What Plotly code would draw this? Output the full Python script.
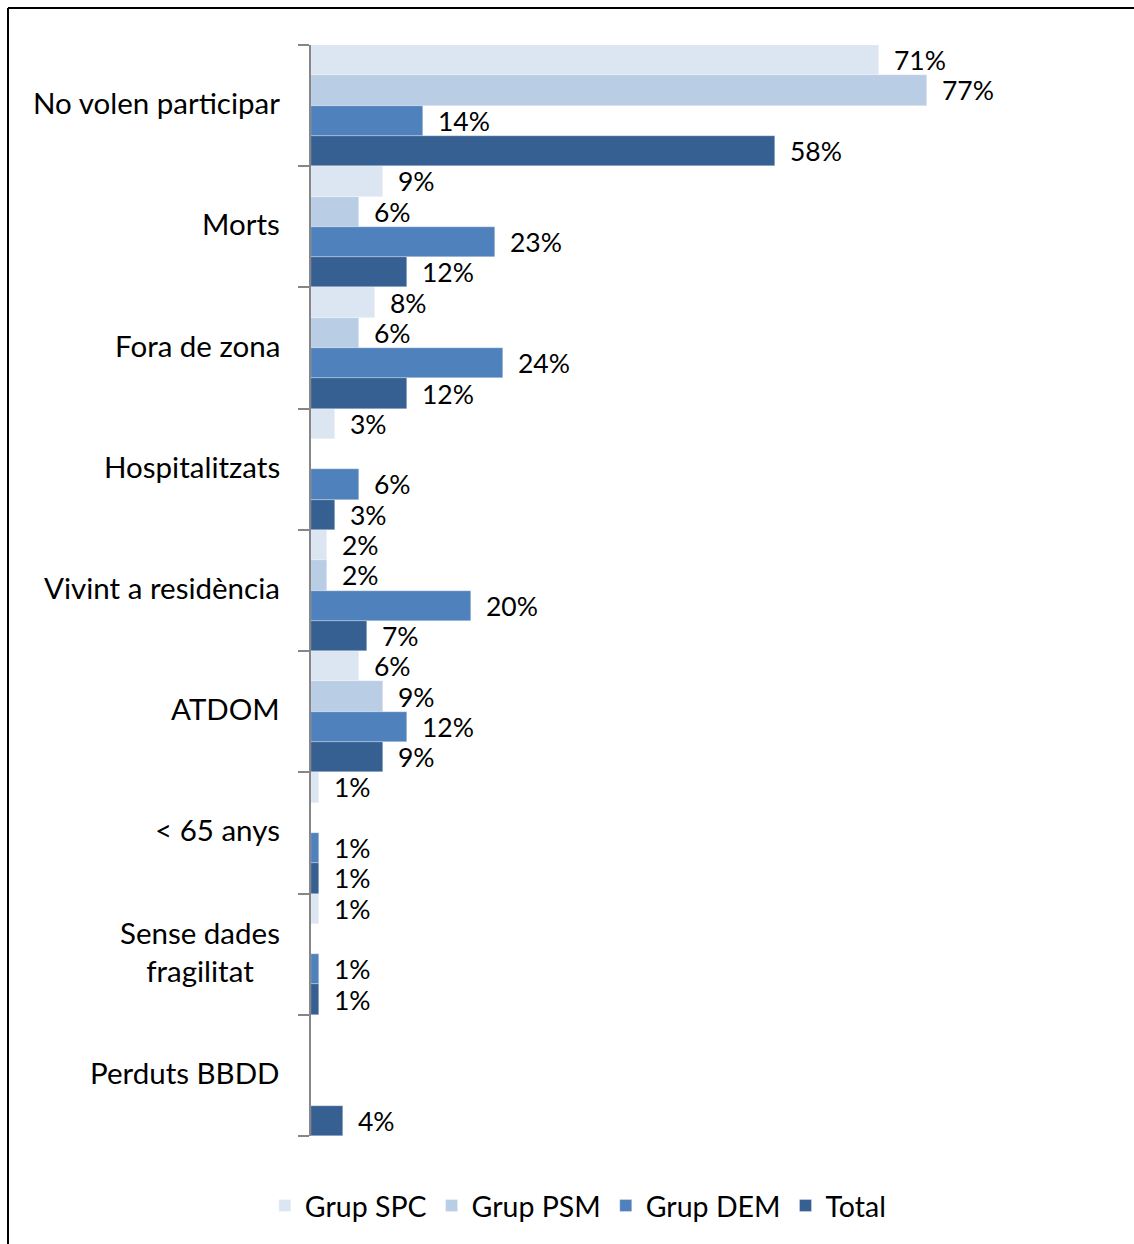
import plotly.graph_objects as go

# Categories (top to bottom) and share of each group, in %
categories = ["No volen participar", "Morts", "Fora de zona", "Hospitalitzats",
              "Vivint a residència", "ATDOM", "&lt; 65 anys",
              "Sense dades<br>fragilitat", "Perduts BBDD"]
grup_spc = [71, 9, 8, 3, 2, 6, 1, 1, None]
grup_psm = [77, 6, 6, None, 2, 9, None, None, None]
grup_dem = [14, 23, 24, 6, 20, 12, 1, 1, None]
total = [58, 12, 12, 3, 7, 9, 1, 1, 4]

series_names = ["Grup SPC", "Grup PSM", "Grup DEM", "Total"]
series_values = [grup_spc, grup_psm, grup_dem, total]
colors = ["#dce6f2", "#b9cde5", "#4f81bd", "#376092"]

W, H = 1134, 1244
ML, MR, MT, MB = 311, 23, 45, 108
PW, PH = W - ML - MR, H - MT - MB
FONT = "Lato"
FS_CAT = 29.5
FS_VAL = 26.5
FS_LEG = 28.5

positions = list(range(len(categories)))
n_series = len(series_values)
slot = 1.0 / n_series

fig = go.Figure()
annotations = []
for j, (name, vals, col) in enumerate(zip(series_names, series_values, colors)):
    fig.add_trace(go.Bar(
        y=positions, x=vals, name=name, orientation="h",
        marker=dict(color=col, line=dict(color="rgba(255,255,255,0.6)", width=0.5)),
        hoverinfo="x+name",
    ))
    for i, v in enumerate(vals):
        if v is None:
            continue
        annotations.append(dict(
            x=v, y=i + (j - (n_series - 1) / 2) * slot, xref="x", yref="y",
            text=f"{v}%", showarrow=False, xanchor="left", yanchor="middle",
            xshift=14, borderpad=0,
            font=dict(family=FONT, size=FS_VAL, color="#000000"),
        ))

# Category labels to the left of the axis
for i, cat in enumerate(categories):
    annotations.append(dict(
        x=0, y=i, xref="paper", yref="y", text=cat, showarrow=False,
        xanchor="right", yanchor="middle", align="center", xshift=-29, yshift=3,
        font=dict(family=FONT, size=FS_CAT, color="#000000"),
    ))

# Outer frame of the chart
def px_x(px):
    return (px - ML) / PW

def px_y(py):
    return 1 - (py - MT) / PH

frame = dict(color="#000000", width=2)
shapes = [
    dict(type="line", xref="paper", yref="paper", x0=px_x(8), x1=px_x(W + 5),
         y0=px_y(8), y1=px_y(8), line=frame),
    dict(type="line", xref="paper", yref="paper", x0=px_x(8), x1=px_x(8),
         y0=px_y(8), y1=px_y(H + 5), line=frame),
]

fig.update_layout(
    width=W, height=H,
    margin=dict(l=ML, r=MR, t=MT, b=MB),
    paper_bgcolor="#ffffff", plot_bgcolor="#ffffff",
    barmode="group", bargap=0, bargroupgap=0,
    font=dict(family=FONT, size=FS_CAT, color="#000000"),
    xaxis=dict(range=[0, 100], visible=False, showgrid=False, zeroline=False),
    yaxis=dict(
        range=[len(categories) - 0.5, -0.5],
        tickvals=[i - 0.5 for i in range(len(categories) + 1)],
        ticktext=[""] * (len(categories) + 1),
        ticks="outside", ticklen=11, tickwidth=1.5, tickcolor="#868686",
        showline=True, linecolor="#868686", linewidth=2,
        showgrid=False, zeroline=False,
    ),
    legend=dict(
        orientation="h", xref="container", yref="container",
        x=0.51, xanchor="center", y=1 - 1206 / H, yanchor="middle",
        font=dict(family=FONT, size=FS_LEG, color="#000000"),
        itemclick=False, itemdoubleclick=False,
    ),
    annotations=annotations,
    shapes=shapes,
)

fig.write_html("out.html")
